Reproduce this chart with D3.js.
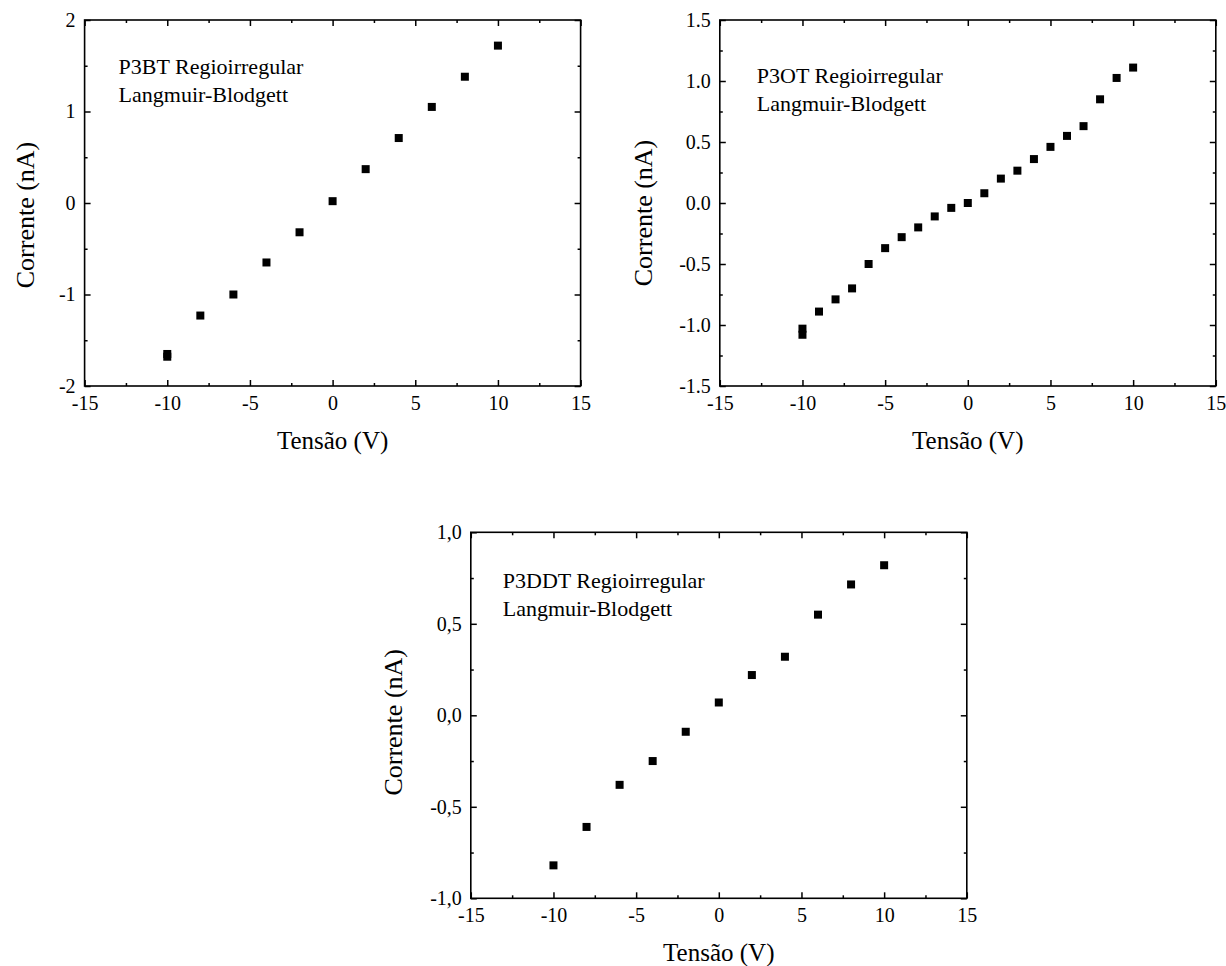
<!DOCTYPE html>
<html>
<head>
<meta charset="utf-8">
<script src="https://cdn.jsdelivr.net/npm/d3@7/dist/d3.min.js"></script>
<style>
  body { margin: 0; background: #fff; }
  svg text { font-family: "Liberation Serif", "Times New Roman", serif; fill: #000; }
  svg .tick text { font-size: 20px; }
</style>
</head>
<body>
<div id="chart"></div>
<script>
// values (tensão V, corrente nA)
var p3btV  = [-10, -10, -8, -6, -4, -2, 0, 2, 4, 6, 8, 10];
var p3btI  = [-1.65, -1.68, -1.23, -1.00, -0.65, -0.32, 0.02, 0.37, 0.71, 1.05, 1.38, 1.72];

var p3otV  = [-10, -10, -9, -8, -7, -6, -5, -4, -3, -2, -1, 0, 1, 2, 3, 4, 5, 6, 7, 8, 9, 10];
var p3otI  = [-1.03, -1.08, -0.89, -0.79, -0.70, -0.50, -0.37, -0.28, -0.20, -0.11, -0.04, 0.00,
              0.08, 0.20, 0.265, 0.36, 0.46, 0.55, 0.63, 0.85, 1.025, 1.11];

var p3ddtV = [-10, -8, -6, -4, -2, 0, 2, 4, 6, 8, 10];
var p3ddtI = [-0.82, -0.61, -0.38, -0.25, -0.09, 0.07, 0.22, 0.32, 0.55, 0.715, 0.82];

var xMajor = [-15, -10, -5, 0, 5, 10, 15];
var xMinor = [-12.5, -7.5, -2.5, 2.5, 7.5, 12.5];
var y1Major = [-2, -1, 0, 1, 2];
var y1Minor = [-1.5, -0.5, 0.5, 1.5];
var y2Major = [-1.5, -1.0, -0.5, 0.0, 0.5, 1.0, 1.5];
var y2Minor = [-1.25, -0.75, -0.25, 0.25, 0.75, 1.25];
var y3Major = [-1.0, -0.5, 0.0, 0.5, 1.0];
var y3Minor = [-0.75, -0.25, 0.25, 0.75];

var dot = d3.formatLocale({decimal: ".", thousands: ",", grouping: [3], currency: ["", ""], minus: "-"});
var comma = d3.formatLocale({decimal: ",", thousands: ".", grouping: [3], currency: ["", ""], minus: "-"});

var width = 1226, height = 966;
var pw = 496, ph = 366;

var svg = d3.select("#chart").append("svg")
  .attr("width", width)
  .attr("height", height);

function panel(opt) {
  var g = svg.append("g").attr("transform", "translate(" + opt.left + "," + opt.top + ")");

  var x = d3.scaleLinear().domain([-15, 15]).range([0, pw]);
  var y = d3.scaleLinear().domain(opt.yDomain).range([ph, 0]);

  // bottom / left with labels
  g.append("g").attr("transform", "translate(0," + ph + ")")
    .call(d3.axisBottom(x).tickValues(xMajor).tickSize(-6).tickPadding(10)
      .tickFormat(dot.format("d")));
  g.append("g")
    .call(d3.axisLeft(y).tickValues(opt.yMajor).tickSize(-6).tickPadding(9)
      .tickFormat(opt.fmt));
  // minor ticks
  g.append("g").attr("transform", "translate(0," + ph + ")")
    .call(d3.axisBottom(x).tickValues(xMinor).tickSize(-3).tickFormat(""));
  g.append("g")
    .call(d3.axisLeft(y).tickValues(opt.yMinor).tickSize(-3).tickFormat(""));
  // mirrored top / right
  g.append("g")
    .call(d3.axisTop(x).tickValues(xMajor).tickSize(-6).tickFormat(""));
  g.append("g")
    .call(d3.axisTop(x).tickValues(xMinor).tickSize(-3).tickFormat(""));
  g.append("g").attr("transform", "translate(" + pw + ",0)")
    .call(d3.axisRight(y).tickValues(opt.yMajor).tickSize(-6).tickFormat(""));
  g.append("g").attr("transform", "translate(" + pw + ",0)")
    .call(d3.axisRight(y).tickValues(opt.yMinor).tickSize(-3).tickFormat(""));

  g.selectAll(".domain").remove();
  g.selectAll(".tick line").attr("stroke", "#000").attr("stroke-width", 1.5);
  g.selectAll(".tick text").attr("font-family", null);

  g.append("rect")
    .attr("width", pw).attr("height", ph)
    .attr("fill", "none").attr("stroke", "#000").attr("stroke-width", 1.6);

  var pts = opt.xs.map(function(v, i) { return {v: v, c: opt.ys[i]}; });
  g.selectAll("rect.pt").data(pts).enter().append("rect")
    .attr("class", "pt")
    .attr("x", function(d) { return x(d.v) - 4; })
    .attr("y", function(d) { return y(d.c) - 4; })
    .attr("width", 8).attr("height", 8)
    .attr("fill", "#000");

  // annotation
  var note = g.append("text").attr("font-size", 22)
    .attr("transform", "translate(" + opt.noteX + "," + opt.noteY + ")");
  note.append("tspan").attr("x", 0).attr("y", 0).text(opt.name + " Regioirregular");
  note.append("tspan").attr("x", 0).attr("y", 28).text("Langmuir-Blodgett");

  // axis titles
  g.append("text")
    .attr("x", pw / 2).attr("y", ph + 63)
    .attr("text-anchor", "middle").attr("font-size", 25)
    .text("Tensão (V)");
  g.append("text")
    .attr("transform", "translate(" + opt.yTitleX + "," + (ph / 2 + opt.yTitleShift) + ") rotate(-90)")
    .attr("text-anchor", "middle").attr("font-size", 26)
    .text("Corrente (nA)");
}

panel({left: 84.6, top: 20, yDomain: [-2, 2], yMajor: y1Major, yMinor: y1Minor,
  fmt: dot.format("d"), xs: p3btV, ys: p3btI, name: "P3BT",
  noteX: 34, noteY: 54, yTitleX: -51, yTitleShift: 12});

panel({left: 719.8, top: 20, yDomain: [-1.5, 1.5], yMajor: y2Major, yMinor: y2Minor,
  fmt: dot.format(".1f"), xs: p3otV, ys: p3otI, name: "P3OT",
  noteX: 37, noteY: 63, yTitleX: -68, yTitleShift: 10});

panel({left: 470.8, top: 532.3, yDomain: [-1, 1], yMajor: y3Major, yMinor: y3Minor,
  fmt: comma.format(".1f"), xs: p3ddtV, ys: p3ddtI, name: "P3DDT",
  noteX: 32, noteY: 56, yTitleX: -69, yTitleShift: 7});
</script>
</body>
</html>
